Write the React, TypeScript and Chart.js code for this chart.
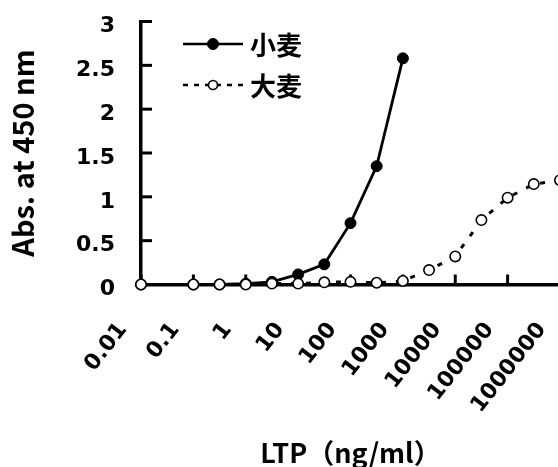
import React, { useEffect, useRef } from 'react';
import { Chart, registerables } from 'chart.js';

Chart.register(...registerables);

// LTP concentration (ng/ml) of each dilution step
const CONCENTRATIONS = [0.01, 0.1, 0.316, 1, 3.16, 10, 31.6, 100, 316, 1000, 3160, 10000, 31600, 100000, 316000, 1000000];
const WHEAT_LABEL = '小麦';
const BARLEY_LABEL = '大麦';
// Absorbance at 450 nm
const WHEAT_ABS = [0, 0, 0, 0.01, 0.03, 0.115, 0.23, 0.7, 1.35, 2.58];
const BARLEY_ABS = [0, 0, 0, 0, 0.01, 0.01, 0.025, 0.03, 0.02, 0.04, 0.165, 0.32, 0.735, 0.99, 1.145, 1.19];

const X_TICKS = [0.01, 0.1, 1, 10, 100, 1000, 10000, 100000, 1000000];
const X_TICK_LABELS = ['0.01', '0.1', '1', '10', '100', '1000', '10000', '100000', '1000000'];
const Y_TICKS = [0, 0.5, 1, 1.5, 2, 2.5, 3];
const Y_TICK_LABELS = ['0', '0.5', '1', '1.5', '2', '2.5', '3'];
const X_TITLE = 'LTP（ng/ml）';
const Y_TITLE = 'Abs. at 450 nm';

const TICK_FONT = { family: '"DejaVu Sans", sans-serif', weight: 'bold' as const, size: 22 };

const innerTicks = {
  id: 'innerTicks',
  beforeDatasetsDraw(chart: any) {
    const ctx = chart.ctx;
    const xs = chart.scales.x;
    const ys = chart.scales.y;
    const area = chart.chartArea;
    ctx.save();
    ctx.strokeStyle = '#000';
    ctx.lineWidth = 3;
    xs.ticks.forEach((t: any) => {
      const px = xs.getPixelForValue(t.value);
      ctx.beginPath();
      ctx.moveTo(px, area.bottom);
      ctx.lineTo(px, area.bottom - 10);
      ctx.stroke();
    });
    ys.ticks.forEach((t: any) => {
      const py = ys.getPixelForValue(t.value);
      ctx.beginPath();
      ctx.moveTo(area.left, py);
      ctx.lineTo(area.left + 11, py);
      ctx.stroke();
    });
    ctx.restore();
  },
};

const customLegend = {
  id: 'customLegend',
  afterDraw(chart: any) {
    const ctx = chart.ctx;
    const area = chart.chartArea;
    const x0 = area.left + 42;
    const x1 = area.left + 102;
    const xc = (x0 + x1) / 2;
    const rows = [
      { y: area.top + 22.5, ds: chart.data.datasets[0], r: 5.5, dash: [] as number[] },
      { y: area.top + 63.5, ds: chart.data.datasets[1], r: 4.5, dash: [5, 6] },
    ];
    ctx.save();
    rows.forEach((row) => {
      const ds = row.ds;
      ctx.strokeStyle = ds.borderColor;
      ctx.lineWidth = 2.5;
      ctx.setLineDash(row.dash);
      ctx.beginPath();
      ctx.moveTo(x0, row.y);
      ctx.lineTo(x1, row.y);
      ctx.stroke();
      ctx.setLineDash([]);
      ctx.beginPath();
      ctx.arc(xc, row.y, row.r, 0, Math.PI * 2);
      ctx.fillStyle = ds.pointBackgroundColor;
      ctx.fill();
      ctx.lineWidth = ds.pointBorderWidth;
      ctx.strokeStyle = ds.pointBorderColor;
      ctx.stroke();
      ctx.fillStyle = '#000';
      ctx.font = 'bold 26px "Noto Sans CJK JP"';
      ctx.textBaseline = 'middle';
      ctx.textAlign = 'left';
      ctx.fillText(ds.label, x1 + 7, row.y + 1);
    });
    ctx.restore();
  },
};

export default function App() {
  const canvasRef = useRef<HTMLCanvasElement>(null);

  useEffect(() => {
    if (!canvasRef.current) return;
    const chart = new Chart(canvasRef.current, {
      type: 'line',
      data: {
        datasets: [
          {
            label: WHEAT_LABEL,
            data: WHEAT_ABS.map((y, i) => ({ x: CONCENTRATIONS[i], y })),
            borderColor: '#000',
            borderWidth: 2.8,
            pointRadius: 5.5,
            pointBackgroundColor: '#000',
            pointBorderColor: '#000',
            pointBorderWidth: 1,
            tension: 0,
            order: 1,
            clip: false,
          },
          {
            label: BARLEY_LABEL,
            data: BARLEY_ABS.map((y, i) => ({ x: CONCENTRATIONS[i], y })),
            borderColor: '#000',
            borderWidth: 3,
            borderDash: [5, 10],
            pointRadius: 5.2,
            pointBackgroundColor: '#fff',
            pointBorderColor: '#000',
            pointBorderWidth: 1.6,
            tension: 0,
            order: 0,
            clip: false,
          },
        ],
      } as any,
      options: {
        animation: false,
        responsive: false,
        devicePixelRatio: 1,
        layout: { padding: { top: 21.5, right: 20, left: 0, bottom: 0 } },
        plugins: { legend: { display: false }, tooltip: { enabled: false } },
        scales: {
          x: {
            type: 'logarithmic',
            min: 0.01,
            max: 1000000,
            afterBuildTicks: (s: any) => {
              s.ticks = X_TICKS.map((value) => ({ value }));
            },
            afterFit: (s: any) => {
              s.height = 182.5;
              s.paddingLeft = 0;
              s.paddingRight = 0;
            },
            grid: { display: false, drawTicks: false },
            border: { display: true, color: '#000', width: 3.5 },
            ticks: {
              autoSkip: false,
              minRotation: 52,
              maxRotation: 52,
              padding: 33,
              labelOffset: -18,
              color: '#000',
              font: TICK_FONT,
              callback: (v: any) => X_TICK_LABELS[X_TICKS.indexOf(Number(v))],
            },
            title: {
              display: true,
              text: X_TITLE,
              color: '#000',
              font: { family: '"Noto Sans CJK JP"', size: 27, weight: 'bold', lineHeight: 1 },
              padding: { top: 0, bottom: 1 },
            },
          },
          y: {
            min: 0,
            max: 3,
            afterBuildTicks: (s: any) => {
              s.ticks = Y_TICKS.map((value) => ({ value }));
            },
            afterFit: (s: any) => {
              s.width = 141;
              s.paddingTop = 0;
              s.paddingBottom = 0;
            },
            grid: { display: false, drawTicks: false },
            border: { display: true, color: '#000', width: 3.5 },
            ticks: {
              padding: 26,
              labelOffset: 5,
              color: '#000',
              font: TICK_FONT,
              callback: (_v: any, i: number) => Y_TICK_LABELS[i],
            },
            title: {
              display: true,
              text: Y_TITLE,
              color: '#000',
              font: { family: '"Noto Sans CJK JP"', size: 29, weight: 'bold', lineHeight: 1 },
              padding: { top: 8, bottom: 0 },
            },
          },
        },
      } as any,
      plugins: [innerTicks, customLegend],
    });
    return () => chart.destroy();
  }, []);

  return (
    <div
      style={{
        position: 'fixed',
        left: 0,
        top: 0,
        width: 558,
        height: 467,
        overflow: 'hidden',
        background: '#fff',
      }}
    >
      <canvas ref={canvasRef} width={580} height={467} style={{ display: 'block' }} />
    </div>
  );
}
